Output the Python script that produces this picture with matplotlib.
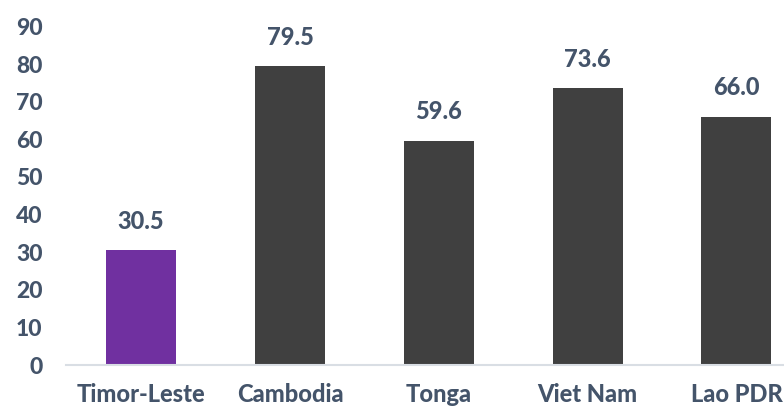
import matplotlib
matplotlib.use("Agg")
import matplotlib.pyplot as plt

categories = ["Timor-Leste", "Cambodia", "Tonga", "Viet Nam", "Lao PDR"]
values = [30.5, 79.5, 59.6, 73.6, 66.0]
yticks = [0, 10, 20, 30, 40, 50, 60, 70, 80, 90]
colors = ["#7030A0", "#404040", "#404040", "#404040", "#404040"]

text_color = "#44546A"
plt.rcParams['font.family'] = ['Lato', 'DejaVu Sans']
FW = "black"

fig = plt.figure(figsize=(7.84, 4.08), dpi=100)
ax = fig.add_axes([66/784, 1 - 365/408, (784-66)/784, (365-26.5)/408])

x = list(range(len(categories)))
ax.bar(x, values, width=0.47, color=colors, zorder=2)
for xi, v in zip(x, values):
    ax.annotate(f"{v:.1f}", (xi, v), xytext=(0, 12.5), textcoords="offset points",
                ha="center", va="bottom", fontsize=17, fontweight=FW, color=text_color)

ax.set_ylim(0, 90)
ax.set_xlim(-0.505, 4.32)
ax.set_yticks(yticks)
ax.set_yticklabels([str(t) for t in yticks])
ax.set_xticks(x)
ax.set_xticklabels(categories)
for lab in ax.get_yticklabels():
    lab.set_fontsize(16.5)
    lab.set_fontweight(FW)
    lab.set_color(text_color)
for lab in ax.get_xticklabels():
    lab.set_fontsize(17)
    lab.set_fontweight(FW)
    lab.set_color(text_color)
ax.tick_params(axis="both", length=0)
ax.tick_params(axis="y", pad=17)
ax.tick_params(axis="x", pad=13)
for s in ["top", "right", "left"]:
    ax.spines[s].set_visible(False)
ax.spines["bottom"].set_color("#D9DEE4")
ax.spines["bottom"].set_linewidth(1.5)

fig.savefig("out.png", dpi=100)
